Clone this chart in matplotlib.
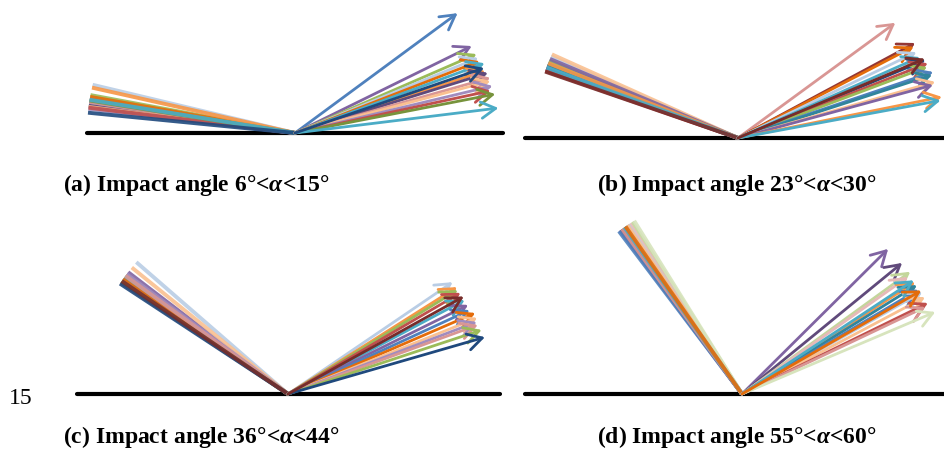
import numpy as np
import matplotlib
matplotlib.use("Agg")
import matplotlib.pyplot as plt

plt.rcParams['mathtext.fontset'] = 'custom'
plt.rcParams['mathtext.rm'] = 'Liberation Serif:bold'
plt.rcParams['mathtext.it'] = 'Liberation Serif:italic:bold'

W, H = 944, 451

# (a) impact angle 6-15 deg: incoming / rebound angles (deg) and arrow lengths
in_a = [8.1, 9.4, 10.5, 13.4, 10.0, 8.9, 12.6, 7.5, 8.6, 7.2, 6.7, 7.0, 9.0, 9.2, 5.6]
out_a = [36.4, 26.2, 23.5, 22.3, 21.3, 20.2, 18.1, 17.3, 15.8, 14.9, 13.4, 12.2, 11.0, 7.0, 19.0]
in_len_a = 208
out_len_a = [202, 197, 198, 198, 198, 202, 200, 202, 203, 202, 203, 200, 204, 205, 200]

# (b) impact angle 23-30 deg
in_b = [20.5, 19.5, 21.0, 23.6, 21.8, 20.0, 19.2, 22.3, 20.8, 21.2, 24.2, 22.8, 21.5, 20.2, 19.0]
out_b = [36.2, 28.2, 27.5, 25.7, 24.0, 22.6, 21.5, 20.6, 18.7, 18.0, 15.9, 15.2, 11.4, 10.5, 23.0]
in_len_b = 204
out_len_b = [195, 201, 198, 198, 199, 203, 204, 202, 206, 204, 205, 202, 208, 206, 203]

# (c) impact angle 36-44 deg
in_c = [41.0, 35.1, 36.1, 33.7, 35.5, 37.3, 34.5, 34.8, 39.0, 36.6, 36.0, 34.0, 33.3, 34.2]
out_c = [34.2, 32.3, 31.5, 30.4, 28.0, 26.3, 24.8, 23.4, 21.9, 20.9, 20.0, 18.3, 16.1, 29.0]
in_len_c = 201
out_len_c = [199, 200, 199, 200, 200, 201, 200, 204, 204, 202, 202, 204, 205, 201]

# (d) impact angle 55-60 deg
in_d = [53.3, 53.6, 57.5, 56.5, 55.0, 55.5, 52.9, 56.0, 55.8, 54.5, 54.0, 58.1, 54.8, 55.2]
out_d = [44.8, 39.3, 36.0, 35.2, 32.9, 31.9, 30.6, 29.5, 27.9, 26.1, 25.4, 23.0, 33.5, 30.0]
in_len_d = 204
out_len_d = [206, 207, 208, 203, 206, 206, 205, 207, 207, 207, 203, 210, 206, 207]

labels = [r"(a) Impact angle 6°<$\alpha$<15°", r"(b) Impact angle 23°<$\alpha$<30°",
          r"(c) Impact angle 36°<$\alpha$<44°", r"(d) Impact angle 55°<$\alpha$<60°"]

# series colours (Excel-like palette)
colors_a = ['#4F81BD', '#8064A2', '#9BBB59', '#B9CDE5', '#E46C0A', '#4BACC6', '#F79646', '#604A7B',
            '#D99694', '#FAC090', '#A18CBE', '#C0504D', '#77933C', '#4BACC6', '#1F497D']
colors_b = ['#D99694', '#943634', '#E46C0A', '#B9CDE5', '#4BACC6', '#1F497D', '#C0504D', '#9BBB59',
            '#4F81BD', '#31859C', '#FAC090', '#8064A2', '#F79646', '#4BACC6', '#772C2A']
colors_c = ['#B9CDE5', '#F79646', '#9BBB59', '#C0504D', '#4BACC6', '#8064A2', '#4F81BD', '#E46C0A',
            '#FAC090', '#A18CBE', '#D99694', '#9BBB59', '#1F497D', '#772C2A']
colors_d = ['#8064A2', '#604A7B', '#C3D69B', '#E6B9B8', '#F79646', '#31859C', '#4F81BD', '#B9CDE5',
            '#FAC090', '#C0504D', '#D99694', '#D7E4BD', '#4BACC6', '#E46C0A']


def panel(fig, rect, impact, base, in_ang, in_len, out_ang, out_len, colors):
    # rect / impact / base in pixels; 1 data unit = 1 pixel, origin at impact point
    x0, y0, x1, y1 = rect
    ix, iy = impact
    ax = fig.add_axes([x0 / W, 1 - y1 / H, (x1 - x0) / W, (y1 - y0) / H])
    ax.set_xlim(x0 - ix, x1 - ix)
    ax.set_ylim(iy - y1, iy - y0)
    ax.axis('off')
    ax.plot([base[0] - ix, base[1] - ix], [0, 0], color='black', lw=3,
            solid_capstyle='round', zorder=1)
    for a, c in zip(in_ang, colors):
        r = np.radians(a)
        ax.plot([-in_len * np.cos(r), 0], [in_len * np.sin(r), 0], color=c, lw=2.8,
                alpha=0.9, solid_capstyle='butt', zorder=2)
    for a, L, c in zip(out_ang, out_len, colors):
        r = np.radians(a)
        ax.annotate('', xy=(L * np.cos(r), L * np.sin(r)), xytext=(0, 0),
                    arrowprops=dict(arrowstyle='->,head_length=0.8,head_width=0.45',
                                    color=c, lw=2, mutation_scale=13,
                                    shrinkA=0, shrinkB=0), annotation_clip=False, zorder=3)
    return ax


fig = plt.figure(figsize=(W / 100, H / 100), dpi=100)

panel(fig, (60, 0, 515, 150), (295, 133), (87, 503), in_a, in_len_a, out_a, out_len_a, colors_a)
panel(fig, (520, 0, 944, 150), (738, 138), (525, 944), in_b, in_len_b, out_b, out_len_b, colors_b)
panel(fig, (60, 240, 515, 410), (288, 394), (77, 500), in_c, in_len_c, out_c, out_len_c, colors_c)
panel(fig, (520, 200, 944, 410), (742, 394), (525, 944), in_d, in_len_d, out_d, out_len_d, colors_d)

lab_pos = [(63, 185), (597, 185), (63, 437), (597, 437)]
for (px, py), t in zip(lab_pos, labels):
    fig.text(px / W, 1 - py / H, t, fontsize=17, fontweight='bold',
             family='Liberation Serif', ha='left', va='center')
fig.text(9 / W, 1 - 398 / H, "15", fontsize=17, family='Liberation Serif',
         ha='left', va='center')

fig.savefig('out.png', dpi=100)
